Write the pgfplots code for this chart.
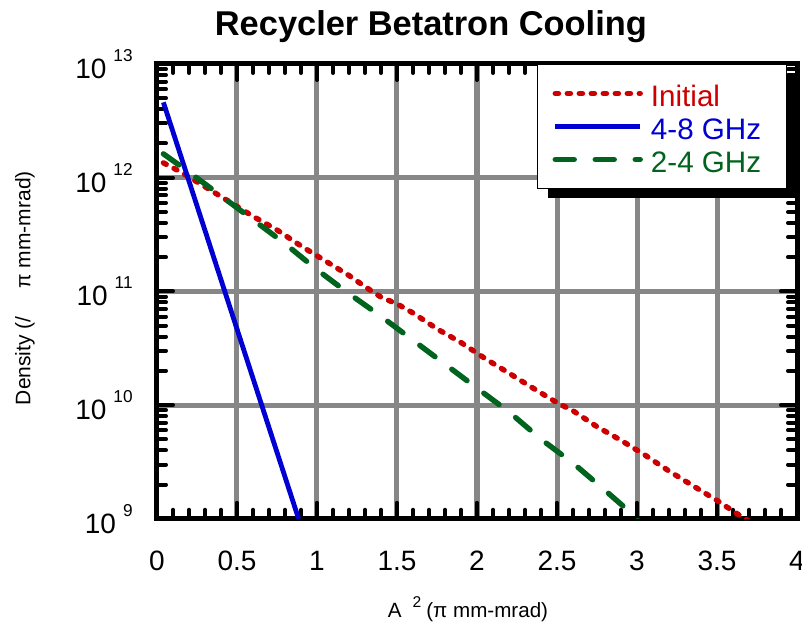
\documentclass[border=0pt]{standalone}
\usepackage{fontspec}
\setmainfont{Liberation Sans}
\usepackage{pgfplots}
\pgfplotsset{compat=1.18}

\definecolor{cInit}{RGB}{204,0,0}
\definecolor{cHi}{RGB}{0,0,210}
\definecolor{cLo}{RGB}{0,100,30}
\definecolor{gridgray}{RGB}{135,135,135}

% decade label: 10 with a raised exponent
\newcommand{\dec}[1]{10\hspace{3.5pt}\raisebox{8.5pt}{\fontsize{8.6}{9}\selectfont #1}}

\begin{document}
\begin{tikzpicture}
\begin{axis}[
    width=320pt, height=227.4pt, scale only axis,
    xmin=0, xmax=4, ymin=1e9, ymax=1e13, ymode=log,
    xtick={0,0.5,...,4}, minor x tick num=4,
    ytick={1e9,1e10,1e11,1e12,1e13},
    yticklabels={\dec{9},\dec{10},\dec{11},\dec{12},\dec{13}},
    minor ytick={2e9,3e9,4e9,5e9,6e9,7e9,8e9,9e9,
                 2e10,3e10,4e10,5e10,6e10,7e10,8e10,9e10,
                 2e11,3e11,4e11,5e11,6e11,7e11,8e11,9e11,
                 2e12,3e12,4e12,5e12,6e12,7e12,8e12,9e12},
    tick align=inside,
    major tick length=8pt, minor tick length=4.5pt,
    every tick/.style={black, line width=2pt, line cap=round},
    grid=major, major grid style={gridgray, line width=2.5pt},
    axis line style={line width=2.5pt},
    ticklabel style={font=\fontsize{14}{16}\selectfont},
    xticklabel style={inner sep=0pt, yshift=-16pt},
    yticklabel style={inner sep=0pt, xshift=-12pt},
    /pgf/number format/assume math mode=true,
    title={Recycler Betatron Cooling},
    every axis title shift=0pt,
    title style={at={(0.428,1.0617)}, anchor=base, font=\bfseries\fontsize{17.2}{20}\selectfont},
    xlabel={A\hspace{5.5pt}\raisebox{5pt}{\fontsize{7.8}{8}\selectfont 2}\hspace{2.5pt}(π mm-mrad)},
    xlabel style={at={(0.486,-0.218)}, anchor=base, font=\fontsize{10.3}{12}\selectfont},
    ylabel={Density (/\hspace{14pt}π mm-mrad)},
    ylabel style={at={(-0.198,0.507)}, anchor=base, font=\fontsize{10.5}{12}\selectfont},
    legend style={at={(0.984,1)}, anchor=north east, draw=black, line width=0.6pt,
        fill=white, inner xsep=7.5pt, inner ysep=8pt, row sep=3.5pt, column sep=4pt,
        font=\fontsize{14.8}{17}\selectfont,
        nodes={inner sep=0pt, text height=13pt, text depth=0pt}},
    legend cell align=left,
    legend image code/.code={\draw[#1] (0pt,0pt) -- (42.5pt,0pt);},
]
\addplot[cInit, line width=2.7pt, dash pattern=on 1.6pt off 4.4pt, line cap=round] table {
x y
0.04 1.35e12
0.15 1.12e12
0.30 8.32e11
0.45 6.17e11
0.60 4.57e11
0.75 3.47e11
0.90 2.51e11
1.05 1.86e11
1.20 1.38e11
1.30 1.10e11
1.40 8.91e10
1.50 7.76e10
1.60 6.46e10
1.75 4.68e10
1.90 3.55e10
2.05 2.57e10
2.20 1.91e10
2.35 1.41e10
2.50 1.05e10
2.60 8.91e9
2.75 6.46e9
2.90 4.90e9
3.05 3.63e9
3.20 2.63e9
3.35 1.95e9
3.50 1.45e9
3.62 1.12e9
3.72 9.12e8
};
\addlegendentry{\color{cInit}Initial}
\addplot[cHi, line width=2.4pt] table {
x y
0.04 4.6e12
0.885 1.0e9
};
\addlegendentry{\color{cHi}4-8 GHz\hspace*{5pt}}
\addplot[cLo, line width=2.7pt, dash pattern=on 9.5pt off 10.5pt, line cap=round] table {
x y
0.04 1.62e12
0.20 1.12e12
0.40 6.92e11
0.60 4.27e11
0.80 2.63e11
1.00 1.55e11
1.20 9.55e10
1.40 6.03e10
1.60 3.72e10
1.80 2.29e10
2.00 1.41e10
2.20 8.71e9
2.40 5.01e9
2.60 3.09e9
2.80 1.78e9
2.94 1.20e9
3.02 9.12e8
};
\addlegendentry{\color{cLo}2-4 GHz}
% legend shadow, drawn before the legend box so it sits behind it
\fill[black] (axis description cs:0.611,0.706) rectangle (axis description cs:1,0.974);
\end{axis}
\pgfresetboundingbox
\path[use as bounding box] ([shift={(-78.5pt,-53.5pt)}]current axis.south west)
    rectangle ([shift={(2.5pt,32pt)}]current axis.north east);
\end{tikzpicture}
\end{document}
